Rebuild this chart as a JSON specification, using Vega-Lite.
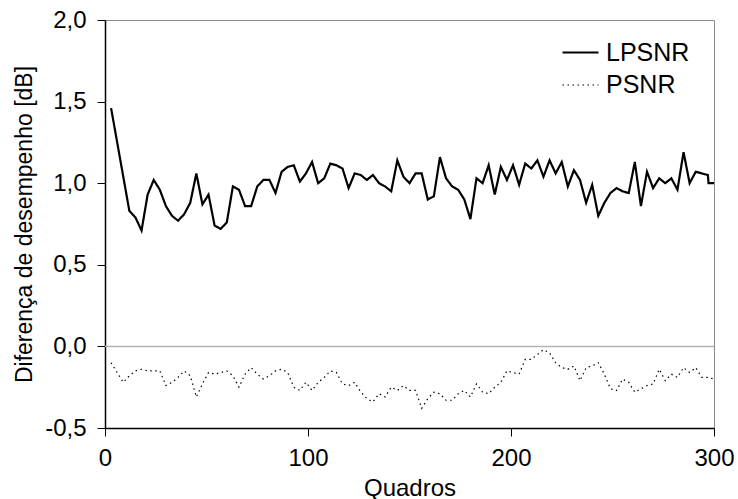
{
  "$schema": "https://vega.github.io/schema/vega-lite/v6.json",
  "width": 609,
  "height": 408,
  "autosize": {"type": "none"},
  "padding": {"left": 105, "top": 20, "right": 24, "bottom": 71},
  "background": "white",
  "config": {
    "view": {"stroke": "#8c8c8c", "strokeWidth": 1},
    "font": "Liberation Sans",
    "axis": {"grid": false, "domainColor": "#000", "tickColor": "#000", "labelColor": "#000", "titleColor": "#000", "labelFont": "Liberation Sans", "titleFont": "Liberation Sans", "titleFontWeight": "normal", "labelFontSize": 24, "titleFontSize": 24}
  },
  "datasets": {
    "series": [
      {"q": 3, "s": "LPSNR", "v": 1.46}, {"q": 6, "s": "LPSNR", "v": 1.25}, {"q": 9, "s": "LPSNR", "v": 1.04}, {"q": 12, "s": "LPSNR", "v": 0.83},
      {"q": 15, "s": "LPSNR", "v": 0.79}, {"q": 18, "s": "LPSNR", "v": 0.71}, {"q": 21, "s": "LPSNR", "v": 0.93}, {"q": 24, "s": "LPSNR", "v": 1.02},
      {"q": 27, "s": "LPSNR", "v": 0.96}, {"q": 30, "s": "LPSNR", "v": 0.86}, {"q": 33, "s": "LPSNR", "v": 0.80}, {"q": 36, "s": "LPSNR", "v": 0.77},
      {"q": 39, "s": "LPSNR", "v": 0.81}, {"q": 42, "s": "LPSNR", "v": 0.88}, {"q": 45, "s": "LPSNR", "v": 1.06}, {"q": 48, "s": "LPSNR", "v": 0.87},
      {"q": 51, "s": "LPSNR", "v": 0.93}, {"q": 54, "s": "LPSNR", "v": 0.74}, {"q": 57, "s": "LPSNR", "v": 0.72}, {"q": 60, "s": "LPSNR", "v": 0.76},
      {"q": 63, "s": "LPSNR", "v": 0.98}, {"q": 66, "s": "LPSNR", "v": 0.96}, {"q": 69, "s": "LPSNR", "v": 0.86}, {"q": 72, "s": "LPSNR", "v": 0.86},
      {"q": 75, "s": "LPSNR", "v": 0.98}, {"q": 78, "s": "LPSNR", "v": 1.02}, {"q": 81, "s": "LPSNR", "v": 1.02}, {"q": 84, "s": "LPSNR", "v": 0.94},
      {"q": 87, "s": "LPSNR", "v": 1.07}, {"q": 90, "s": "LPSNR", "v": 1.10}, {"q": 93, "s": "LPSNR", "v": 1.11}, {"q": 96, "s": "LPSNR", "v": 1.01},
      {"q": 99, "s": "LPSNR", "v": 1.06}, {"q": 102, "s": "LPSNR", "v": 1.13}, {"q": 105, "s": "LPSNR", "v": 1.00}, {"q": 108, "s": "LPSNR", "v": 1.03},
      {"q": 111, "s": "LPSNR", "v": 1.12}, {"q": 114, "s": "LPSNR", "v": 1.11}, {"q": 117, "s": "LPSNR", "v": 1.09}, {"q": 120, "s": "LPSNR", "v": 0.97},
      {"q": 123, "s": "LPSNR", "v": 1.06}, {"q": 126, "s": "LPSNR", "v": 1.05}, {"q": 129, "s": "LPSNR", "v": 1.02}, {"q": 132, "s": "LPSNR", "v": 1.05},
      {"q": 135, "s": "LPSNR", "v": 1.00}, {"q": 138, "s": "LPSNR", "v": 0.98}, {"q": 141, "s": "LPSNR", "v": 0.95}, {"q": 144, "s": "LPSNR", "v": 1.14},
      {"q": 147, "s": "LPSNR", "v": 1.04}, {"q": 150, "s": "LPSNR", "v": 1.00}, {"q": 153, "s": "LPSNR", "v": 1.06}, {"q": 156, "s": "LPSNR", "v": 1.06},
      {"q": 159, "s": "LPSNR", "v": 0.90}, {"q": 162, "s": "LPSNR", "v": 0.92}, {"q": 165, "s": "LPSNR", "v": 1.16}, {"q": 168, "s": "LPSNR", "v": 1.03},
      {"q": 171, "s": "LPSNR", "v": 0.98}, {"q": 174, "s": "LPSNR", "v": 0.96}, {"q": 177, "s": "LPSNR", "v": 0.90}, {"q": 180, "s": "LPSNR", "v": 0.78},
      {"q": 183, "s": "LPSNR", "v": 1.03}, {"q": 186, "s": "LPSNR", "v": 1.00}, {"q": 189, "s": "LPSNR", "v": 1.11}, {"q": 192, "s": "LPSNR", "v": 0.93},
      {"q": 195, "s": "LPSNR", "v": 1.10}, {"q": 198, "s": "LPSNR", "v": 1.02}, {"q": 201, "s": "LPSNR", "v": 1.11}, {"q": 204, "s": "LPSNR", "v": 0.99},
      {"q": 207, "s": "LPSNR", "v": 1.12}, {"q": 210, "s": "LPSNR", "v": 1.09}, {"q": 213, "s": "LPSNR", "v": 1.14}, {"q": 216, "s": "LPSNR", "v": 1.04},
      {"q": 219, "s": "LPSNR", "v": 1.14}, {"q": 222, "s": "LPSNR", "v": 1.06}, {"q": 225, "s": "LPSNR", "v": 1.13}, {"q": 228, "s": "LPSNR", "v": 0.98},
      {"q": 231, "s": "LPSNR", "v": 1.08}, {"q": 234, "s": "LPSNR", "v": 1.02}, {"q": 237, "s": "LPSNR", "v": 0.88}, {"q": 240, "s": "LPSNR", "v": 0.99},
      {"q": 243, "s": "LPSNR", "v": 0.80}, {"q": 246, "s": "LPSNR", "v": 0.88}, {"q": 249, "s": "LPSNR", "v": 0.94}, {"q": 252, "s": "LPSNR", "v": 0.97},
      {"q": 255, "s": "LPSNR", "v": 0.95}, {"q": 258, "s": "LPSNR", "v": 0.94}, {"q": 261, "s": "LPSNR", "v": 1.13}, {"q": 264, "s": "LPSNR", "v": 0.86},
      {"q": 267, "s": "LPSNR", "v": 1.07}, {"q": 270, "s": "LPSNR", "v": 0.97}, {"q": 273, "s": "LPSNR", "v": 1.03}, {"q": 276, "s": "LPSNR", "v": 1.00},
      {"q": 279, "s": "LPSNR", "v": 1.03}, {"q": 282, "s": "LPSNR", "v": 0.96}, {"q": 285, "s": "LPSNR", "v": 1.19}, {"q": 288, "s": "LPSNR", "v": 1.00},
      {"q": 291, "s": "LPSNR", "v": 1.07}, {"q": 294, "s": "LPSNR", "v": 1.06}, {"q": 297, "s": "LPSNR", "v": 1.05}, {"q": 297.3, "s": "LPSNR", "v": 1.00},
      {"q": 300, "s": "LPSNR", "v": 1.00},
      {"q": 3, "s": "PSNR", "v": -0.10}, {"q": 6, "s": "PSNR", "v": -0.16}, {"q": 9, "s": "PSNR", "v": -0.22}, {"q": 12, "s": "PSNR", "v": -0.18},
      {"q": 15, "s": "PSNR", "v": -0.15}, {"q": 18, "s": "PSNR", "v": -0.14}, {"q": 21, "s": "PSNR", "v": -0.15}, {"q": 24, "s": "PSNR", "v": -0.15},
      {"q": 27, "s": "PSNR", "v": -0.15}, {"q": 30, "s": "PSNR", "v": -0.24}, {"q": 33, "s": "PSNR", "v": -0.22}, {"q": 36, "s": "PSNR", "v": -0.19},
      {"q": 39, "s": "PSNR", "v": -0.15}, {"q": 42, "s": "PSNR", "v": -0.18}, {"q": 45, "s": "PSNR", "v": -0.31}, {"q": 48, "s": "PSNR", "v": -0.23},
      {"q": 51, "s": "PSNR", "v": -0.16}, {"q": 54, "s": "PSNR", "v": -0.17}, {"q": 57, "s": "PSNR", "v": -0.16}, {"q": 60, "s": "PSNR", "v": -0.15},
      {"q": 63, "s": "PSNR", "v": -0.18}, {"q": 66, "s": "PSNR", "v": -0.25}, {"q": 69, "s": "PSNR", "v": -0.17}, {"q": 72, "s": "PSNR", "v": -0.13},
      {"q": 75, "s": "PSNR", "v": -0.17}, {"q": 78, "s": "PSNR", "v": -0.20}, {"q": 81, "s": "PSNR", "v": -0.18}, {"q": 84, "s": "PSNR", "v": -0.15},
      {"q": 87, "s": "PSNR", "v": -0.14}, {"q": 90, "s": "PSNR", "v": -0.16}, {"q": 93, "s": "PSNR", "v": -0.25}, {"q": 96, "s": "PSNR", "v": -0.27},
      {"q": 99, "s": "PSNR", "v": -0.22}, {"q": 102, "s": "PSNR", "v": -0.27}, {"q": 105, "s": "PSNR", "v": -0.22}, {"q": 108, "s": "PSNR", "v": -0.19},
      {"q": 111, "s": "PSNR", "v": -0.15}, {"q": 114, "s": "PSNR", "v": -0.16}, {"q": 117, "s": "PSNR", "v": -0.23}, {"q": 120, "s": "PSNR", "v": -0.24},
      {"q": 123, "s": "PSNR", "v": -0.22}, {"q": 126, "s": "PSNR", "v": -0.28}, {"q": 129, "s": "PSNR", "v": -0.32}, {"q": 132, "s": "PSNR", "v": -0.34},
      {"q": 135, "s": "PSNR", "v": -0.29}, {"q": 138, "s": "PSNR", "v": -0.31}, {"q": 141, "s": "PSNR", "v": -0.25}, {"q": 144, "s": "PSNR", "v": -0.27},
      {"q": 147, "s": "PSNR", "v": -0.24}, {"q": 150, "s": "PSNR", "v": -0.27}, {"q": 153, "s": "PSNR", "v": -0.27}, {"q": 156, "s": "PSNR", "v": -0.38},
      {"q": 159, "s": "PSNR", "v": -0.32}, {"q": 162, "s": "PSNR", "v": -0.28}, {"q": 165, "s": "PSNR", "v": -0.29}, {"q": 168, "s": "PSNR", "v": -0.33},
      {"q": 171, "s": "PSNR", "v": -0.33}, {"q": 174, "s": "PSNR", "v": -0.29}, {"q": 177, "s": "PSNR", "v": -0.27}, {"q": 180, "s": "PSNR", "v": -0.31},
      {"q": 183, "s": "PSNR", "v": -0.23}, {"q": 186, "s": "PSNR", "v": -0.28}, {"q": 189, "s": "PSNR", "v": -0.29}, {"q": 192, "s": "PSNR", "v": -0.25},
      {"q": 195, "s": "PSNR", "v": -0.22}, {"q": 198, "s": "PSNR", "v": -0.15}, {"q": 201, "s": "PSNR", "v": -0.16}, {"q": 204, "s": "PSNR", "v": -0.17},
      {"q": 207, "s": "PSNR", "v": -0.08}, {"q": 210, "s": "PSNR", "v": -0.08}, {"q": 213, "s": "PSNR", "v": -0.05}, {"q": 216, "s": "PSNR", "v": -0.02},
      {"q": 219, "s": "PSNR", "v": -0.04}, {"q": 222, "s": "PSNR", "v": -0.10}, {"q": 225, "s": "PSNR", "v": -0.13}, {"q": 228, "s": "PSNR", "v": -0.14},
      {"q": 231, "s": "PSNR", "v": -0.12}, {"q": 234, "s": "PSNR", "v": -0.21}, {"q": 237, "s": "PSNR", "v": -0.13}, {"q": 240, "s": "PSNR", "v": -0.12},
      {"q": 243, "s": "PSNR", "v": -0.10}, {"q": 246, "s": "PSNR", "v": -0.17}, {"q": 249, "s": "PSNR", "v": -0.26}, {"q": 252, "s": "PSNR", "v": -0.27},
      {"q": 255, "s": "PSNR", "v": -0.20}, {"q": 258, "s": "PSNR", "v": -0.22}, {"q": 261, "s": "PSNR", "v": -0.28}, {"q": 264, "s": "PSNR", "v": -0.26},
      {"q": 267, "s": "PSNR", "v": -0.24}, {"q": 270, "s": "PSNR", "v": -0.23}, {"q": 273, "s": "PSNR", "v": -0.14}, {"q": 276, "s": "PSNR", "v": -0.21},
      {"q": 279, "s": "PSNR", "v": -0.17}, {"q": 282, "s": "PSNR", "v": -0.19}, {"q": 285, "s": "PSNR", "v": -0.13}, {"q": 288, "s": "PSNR", "v": -0.16},
      {"q": 291, "s": "PSNR", "v": -0.13}, {"q": 294, "s": "PSNR", "v": -0.19}, {"q": 297, "s": "PSNR", "v": -0.19}, {"q": 300, "s": "PSNR", "v": -0.20}
    ],
    "zero": [{"z": 0}]
  },
  "layer": [
    {
      "data": {"name": "zero"},
      "mark": {"type": "rule", "color": "#b4b4b4", "strokeWidth": 1.5},
      "encoding": {
        "y": {"field": "z", "type": "quantitative", "scale": {"domain": [-0.5, 2.0]}}
      }
    },
    {
      "data": {"name": "series"},
      "mark": {"type": "line", "color": "#000", "clip": true},
      "encoding": {
        "x": {
          "field": "q", "type": "quantitative", "title": "Quadros",
          "scale": {"domain": [0, 300], "nice": false, "zero": false},
          "axis": {"values": [0, 100, 200, 300], "tickSize": 8, "labelPadding": 10, "titlePadding": 6, "domainWidth": 1.5, "labelFlush": false}
        },
        "y": {
          "field": "v", "type": "quantitative", "title": "Diferença de desempenho [dB]",
          "scale": {"domain": [-0.5, 2.0], "nice": false},
          "axis": {"values": [-0.5, 0, 0.5, 1, 1.5, 2], "labelExpr": "replace(replace(format(datum.value, '.1f'), '.', ','), '\u2212', '-')", "tickSize": 8, "labelPadding": 11, "titlePadding": 8, "titleFontSize": 23, "domainWidth": 1.5}
        },
        "strokeDash": {
          "field": "s", "type": "nominal",
          "scale": {"domain": ["LPSNR", "PSNR"], "range": [[1, 0], [1.5, 3.5]]},
          "legend": {"title": null, "orient": "none", "legendX": 456, "legendY": 13, "padding": 0, "symbolType": "stroke", "symbolSize": 1296, "symbolStrokeColor": "#000", "labelFontSize": 25, "labelFont": "Liberation Sans", "labelColor": "#000", "labelOffset": 6, "rowPadding": 0}
        },
        "strokeWidth": {
          "field": "s", "type": "nominal",
          "scale": {"domain": ["LPSNR", "PSNR"], "range": [2.2, 1.2]},
          "legend": {"title": null, "orient": "none", "legendX": 456, "legendY": 13, "padding": 0, "symbolType": "stroke", "symbolSize": 1296, "symbolStrokeColor": "#000", "labelFontSize": 25, "labelFont": "Liberation Sans", "labelColor": "#000", "labelOffset": 6, "rowPadding": 0}
        }
      }
    }
  ]
}
